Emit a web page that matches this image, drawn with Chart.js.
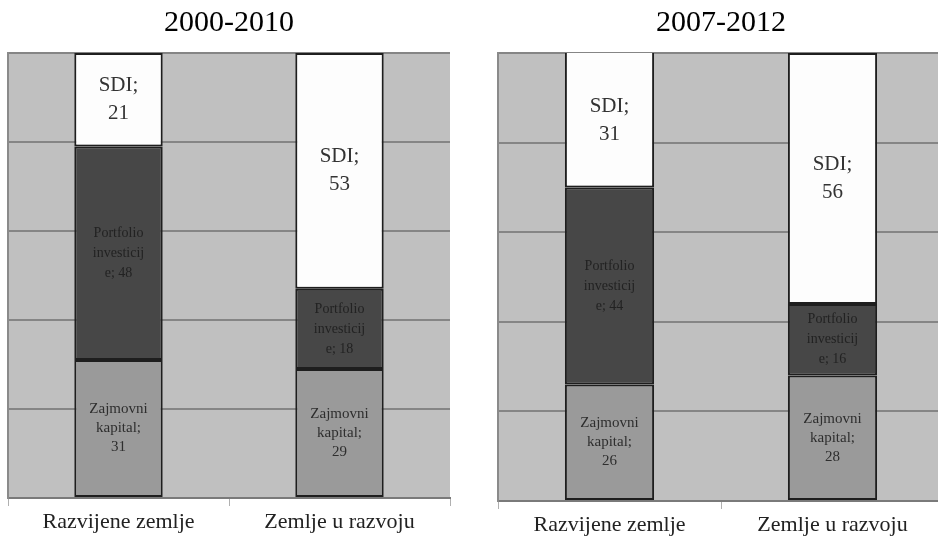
<!DOCTYPE html>
<html>
<head>
<meta charset="utf-8">
<script src="https://cdn.jsdelivr.net/npm/chart.js@4.4.0/dist/chart.umd.min.js"></script>
<style>
html,body{margin:0;padding:0;background:#fff;width:938px;height:539px;overflow:hidden;position:relative;}
canvas{position:absolute;top:0;}
#c1{left:0;}
#c2{left:490px;}
</style>
</head>
<body>
<canvas id="c1" width="460" height="539"></canvas>
<canvas id="c2" width="460" height="541"></canvas>
<script>
// ---- data ----
const categories = ["Razvijene zemlje", "Zemlje u razvoju"];
const panelTitles = ["2000-2010", "2007-2012"];
const seriesNames = ["Zajmovni kapital", "Portfolio investicije", "SDI"];
const zajmovni2000 = [31, 29];
const portfolio2000 = [48, 18];
const sdi2000 = [21, 53];
const zajmovni2007 = [26, 28];
const portfolio2007 = [44, 16];
const sdi2007 = [31, 56];
const yMax = 100;
const yStep = 20;

const SERIF = "'Liberation Serif', 'DejaVu Serif', serif";

// label line builders (text wrapped as in the source)
function labelLines(seriesIdx, v) {
  if (seriesIdx === 2) return ["SDI;", String(v)];
  if (seriesIdx === 1) return ["Portfolio", "investicij", "e; " + v];
  return ["Zajmovni", "kapital;", String(v)];
}
const labelStyle = [
  {size: 15, lh: 19, color: "#2e2e2e"},
  {size: 14, lh: 20, color: "#222222"},
  {size: 21, lh: 28, color: "#333333"}
];

const bgPlugin = {
  id: 'plotBg',
  beforeDraw(chart) {
    const {ctx, chartArea: a} = chart;
    ctx.save();
    ctx.fillStyle = '#c0c0c0';
    ctx.fillRect(a.left, a.top, a.right - a.left, a.bottom - a.top);
    ctx.restore();
  }
};

const segLabels = {
  id: 'segLabels',
  afterDatasetsDraw(chart) {
    const ctx = chart.ctx;
    ctx.save();
    ctx.textAlign = 'center';
    ctx.textBaseline = 'middle';
    chart.data.datasets.forEach((ds, di) => {
      const meta = chart.getDatasetMeta(di);
      const st = labelStyle[di];
      meta.data.forEach((bar, i) => {
        const top = Math.max(bar.y, chart.chartArea.top);
        const cy = (top + bar.base) / 2;
        const lines = labelLines(di, ds.data[i]);
        ctx.font = st.size + "px " + SERIF;
        ctx.fillStyle = st.color;
        const n = lines.length;
        lines.forEach((t, k) => {
          ctx.fillText(t, bar.x, cy + (k - (n - 1) / 2) * st.lh);
        });
      });
    });
    ctx.restore();
  }
};

function makeChart(id, title, zaj, port, sdi, padL, padR, padB) {
  return new Chart(document.getElementById(id), {
    type: 'bar',
    data: {
      labels: categories,
      datasets: [
        {label: seriesNames[0], data: zaj, backgroundColor: '#9a9a9a'},
        {label: seriesNames[1], data: port, backgroundColor: '#474747'},
        {label: seriesNames[2], data: sdi, backgroundColor: '#fdfdfd'}
      ].map(d => Object.assign(d, {
        borderColor: '#1e1e1e', borderWidth: 2, borderSkipped: false,
        categoryPercentage: 1.0, barPercentage: 0.4
      }))
    },
    options: {
      responsive: false,
      animation: false,
      layout: {padding: {top: 2, left: padL, right: padR, bottom: padB}},
      plugins: {
        legend: {display: false},
        tooltip: {enabled: false},
        title: {
          display: true, text: title, color: '#000',
          font: {family: SERIF, size: 30, weight: 'normal', lineHeight: 1.0},
          padding: {top: 6, bottom: 15}
        }
      },
      scales: {
        x: {
          stacked: true,
          grid: {display: true, drawOnChartArea: false, drawTicks: true, tickLength: 8, color: '#b0b0b0', offset: true},
          border: {display: true, color: '#7a7a7a', width: 2},
          ticks: {color: '#222', font: {family: SERIF, size: 22, lineHeight: 1.0}, padding: 5, maxRotation: 0}
        },
        y: {
          stacked: true, min: 0, max: yMax,
          ticks: {display: false, stepSize: yStep},
          grid: {color: '#858585', lineWidth: 2, drawTicks: false},
          border: {display: true, color: '#8a8a8a', width: 2}
        }
      }
    },
    plugins: [bgPlugin, segLabels]
  });
}

makeChart('c1', panelTitles[0], zajmovni2000, portfolio2000, sdi2000, 8, 10, 1);
makeChart('c2', panelTitles[1], zajmovni2007, portfolio2007, sdi2007, 8, 6, 0);
</script>
</body>
</html>
